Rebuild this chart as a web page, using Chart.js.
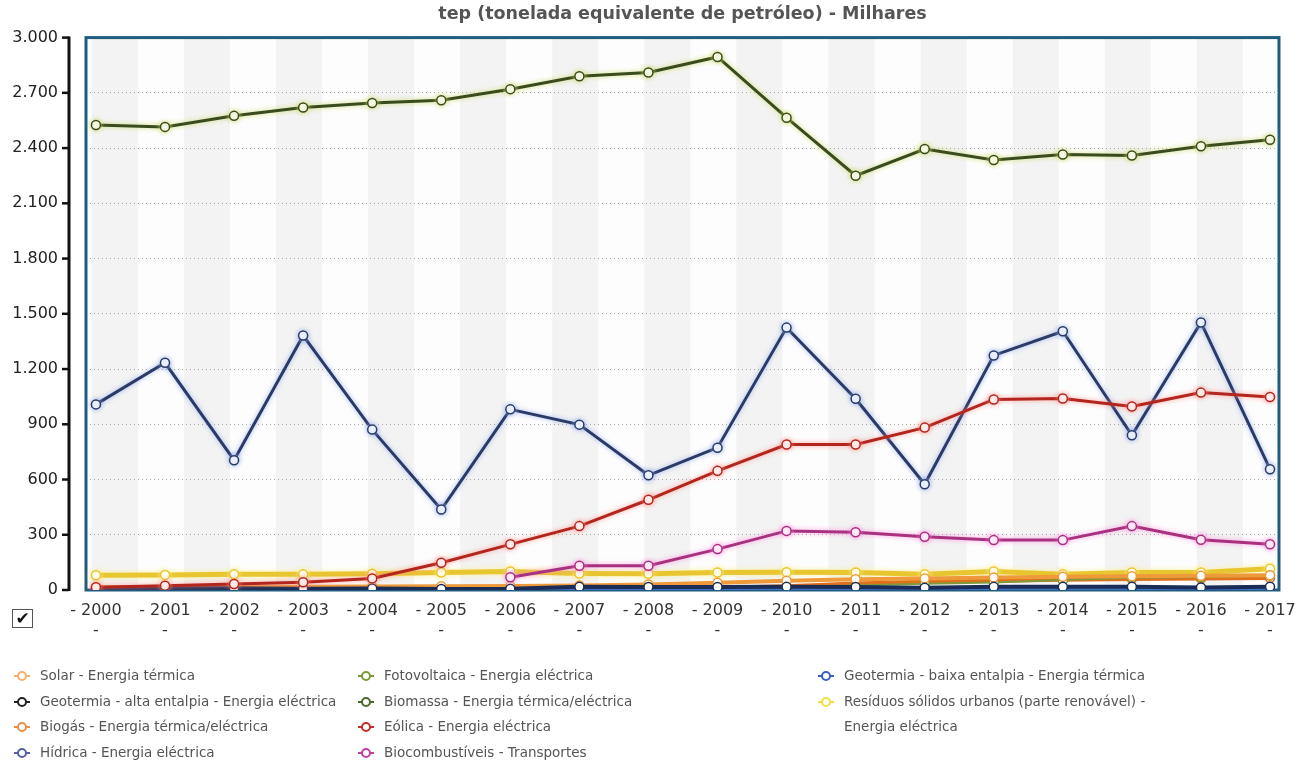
<!DOCTYPE html>
<html lang="pt">
<head>
<meta charset="utf-8">
<title>Energias renováveis - tep</title>
<script src="https://cdn.jsdelivr.net/npm/chart.js@4.4.1/dist/chart.umd.min.js"></script>
<style>
  html, body { margin: 0; padding: 0; background: #fff; }
  body { width: 1306px; height: 762px; position: relative; overflow: hidden; font-family: 'DejaVu Sans', Verdana, sans-serif; }
  #chart-wrap { position: absolute; left: 0; top: 0; width: 1306px; height: 645px; }
  #toggle { position: absolute; left: 12px; top: 609px; width: 19px; height: 17px; border: 1.5px solid #555; background: #fff;
            font-size: 17px; line-height: 17px; text-align: center; color: #111; font-weight: bold; }
  #legend { position: absolute; left: 14px; top: 663px; display: grid; grid-template-columns: 344px 460px 330px;
            grid-template-rows: repeat(4, 25.7px); grid-auto-flow: column; font-size: 13.5px; color: #555; }
  .lg-item { display: flex; align-items: flex-start; line-height: 25.7px; }
  .lg-item svg { flex: none; margin: 7px 10px 0 0; }
  .lg-text { max-width: 310px; }
</style>
</head>
<body>
<div id="chart-wrap"><canvas id="tep-chart"></canvas></div>
<div id="toggle">✔</div>
<div id="legend"></div>
<script>
// ===== Produção de energia renovável (tep, milhares) =====

const YEARS = [2000, 2001, 2002, 2003, 2004, 2005, 2006, 2007, 2008, 2009, 2010, 2011, 2012, 2013, 2014, 2015, 2016, 2017];
const Y_TICKS = [0, 300, 600, 900, 1200, 1500, 1800, 2100, 2400, 2700, 3000];

const solarTermica  = [15, 16, 17, 18, 19, 20, 22, 25, 30, 40, 50, 58, 63, 68, 72, 75, 77, 80];
const geoAlta       = [7, 9, 9, 7, 8, 6, 7, 17, 16, 16, 17, 16, 12, 17, 17, 17, 14, 18];
const biogas        = [2, 2, 3, 3, 3, 5, 7, 8, 10, 12, 20, 35, 45, 50, 55, 60, 62, 65];
const hidrica       = [1008, 1234, 705, 1382, 871, 437, 981, 898, 623, 773, 1425, 1039, 574, 1274, 1405, 840, 1453, 656];
const fotovoltaica  = [0, 0, 0, 0, 0, 0, 1, 2, 4, 14, 18, 24, 34, 41, 54, 66, 70, 78];
const biomassa      = [2525, 2515, 2575, 2620, 2645, 2660, 2720, 2790, 2810, 2895, 2565, 2250, 2395, 2335, 2365, 2360, 2410, 2445];
const eolica        = [15, 23, 33, 42, 63, 148, 248, 347, 490, 647, 790, 790, 882, 1035, 1040, 997, 1072, 1048];
const biocomb       = [null, null, null, null, null, null, 69, 132, 132, 222, 321, 314, 289, 271, 271, 347, 273, 248];
const geoBaixa      = [1, 1, 1, 1, 1, 1, 1, 1, 1, 1, 1, 2, 2, 2, 2, 2, 2, 2];
const residuos      = [80, 82, 85, 85, 88, 95, 100, 90, 88, 95, 97, 95, 85, 100, 85, 95, 95, 115];

const SERIES = [
  { label: 'Solar - Energia térmica', data: solarTermica, color: '#ee9a3a', mark: '#f4b070', width: 4, order: 6 },
  { label: 'Geotermia - alta entalpia - Energia eléctrica', data: geoAlta, color: '#1b2d57', mark: '#222', width: 4, order: 4 },
  { label: 'Biogás - Energia térmica/eléctrica', data: biogas, color: '#e0701c', mark: '#e8904a', width: 4, order: 7 },
  { label: 'Hídrica - Energia eléctrica', data: hidrica, color: '#2b3a67', mark: '#5560a8', width: 3, glow: 'rgba(150,175,235,0.9)', order: 2 },
  { label: 'Fotovoltaica - Energia eléctrica', data: fotovoltaica, color: '#7f9a3a', mark: '#7a9a3a', width: 2, order: 6 },
  { label: 'Biomassa - Energia térmica/eléctrica', data: biomassa, color: '#3a4c1e', mark: '#4a6a2a', width: 3, glow: 'rgba(205,220,110,0.95)', order: 2 },
  { label: 'Eólica - Energia eléctrica', data: eolica, color: '#b3261e', mark: '#c0302a', width: 3, glow: 'rgba(255,140,130,0.8)', order: 1 },
  { label: 'Biocombustíveis - Transportes', data: biocomb, color: '#a8327f', mark: '#c040a0', width: 3, glow: 'rgba(255,130,220,0.8)', order: 3 },
  { label: 'Geotermia - baixa entalpia - Energia térmica', data: geoBaixa, color: '#3f6fc0', mark: '#3a5fbf', width: 3, order: 5 },
  { label: 'Resíduos sólidos urbanos (parte renovável) - Energia eléctrica', data: residuos, color: '#e8c630', mark: '#f0e040', width: 5, glow: 'rgba(255,240,140,0.9)', order: 9 },
];

const FONT = "'DejaVu Sans', Verdana, sans-serif";

function fmtThousands(v) {
  return String(v).replace(/\B(?=(\d{3})+(?!\d))/g, '.');
}

// alternating column shading + plot frame + detached black y axis
const plotDecor = {
  id: 'plotDecor',
  beforeDraw(chart) {
    const { ctx, chartArea: a, scales: { x } } = chart;
    ctx.save();
    ctx.fillStyle = '#fdfdfd';
    ctx.fillRect(a.left, a.top, a.right - a.left, a.bottom - a.top);
    ctx.beginPath();
    ctx.rect(a.left, a.top, a.right - a.left, a.bottom - a.top);
    ctx.clip();
    ctx.fillStyle = '#f3f3f3';
    const step = 2 / 3;
    for (let v = -0.06, k = 0; v < x.max; v += step, k++) {
      if (k % 2) continue;
      const x0 = x.getPixelForValue(v), x1 = x.getPixelForValue(v + step);
      ctx.fillRect(x0, a.top, x1 - x0, a.bottom - a.top);
    }
    ctx.restore();
  },
  beforeDatasetsDraw(chart) {
    const { ctx, chartArea: a } = chart;
    ctx.save();
    ctx.strokeStyle = '#1f5c80';
    ctx.lineWidth = 3;
    ctx.strokeRect(a.left, a.top, a.right - a.left, a.bottom - a.top);
    ctx.restore();
  },
  afterDraw(chart) {
    const { ctx, chartArea: a, scales: { y } } = chart;
    const ax = a.left - 17;
    ctx.save();
    ctx.strokeStyle = '#111';
    ctx.lineWidth = 3;
    ctx.beginPath();
    ctx.moveTo(ax, y.getPixelForValue(y.max) - 1);
    ctx.lineTo(ax, y.getPixelForValue(y.min) + 1);
    ctx.stroke();
    ctx.lineWidth = 2.5;
    y.ticks.forEach(t => {
      const py = y.getPixelForValue(t.value);
      ctx.beginPath();
      ctx.moveTo(ax - 7, py);
      ctx.lineTo(ax, py);
      ctx.stroke();
    });
    ctx.restore();
  }
};

// soft halo under the main lines
const lineGlow = {
  id: 'lineGlow',
  beforeDatasetDraw(chart, args) {
    const ds = chart.data.datasets[args.index];
    chart.ctx.save();
    if (ds.glow) {
      chart.ctx.shadowColor = ds.glow;
      chart.ctx.shadowBlur = 5;
    }
  },
  afterDatasetDraw(chart) {
    chart.ctx.restore();
  }
};

const datasets = SERIES.map(s => ({
  label: s.label,
  data: s.data.map((v, i) => ({ x: i, y: v })),
  borderColor: s.color,
  borderWidth: s.width,
  pointRadius: 4.5,
  pointBorderWidth: 1.5,
  pointBackgroundColor: '#fff',
  pointBorderColor: s.color,
  tension: 0,
  order: s.order,
  glow: s.glow,
}));

new Chart(document.getElementById('tep-chart').getContext('2d'), {
  type: 'line',
  data: { datasets },
  plugins: [plotDecor, lineGlow],
  options: {
    responsive: true,
    maintainAspectRatio: false,
    animation: false,
    layout: { padding: { left: 0, right: 21, top: 0, bottom: 0 } },
    plugins: {
      legend: { display: false },
      tooltip: { enabled: false },
      title: {
        display: true,
        fullSize: false,
        text: 'tep (tonelada equivalente de petróleo) - Milhares',
        color: '#555',
        font: { family: FONT, size: 17.5, weight: 'bold', lineHeight: 1.2 },
        padding: { top: 1, bottom: 13 },
      }
    },
    scales: {
      x: {
        type: 'linear',
        min: -0.144,
        max: 17.13,
        afterBuildTicks: s => { s.ticks = YEARS.map((_, i) => ({ value: i })); },
        afterFit: s => { s.height = 55; },
        grid: { display: false, drawTicks: false },
        border: { display: false },
        ticks: {
          padding: 10,
          color: '#333',
          maxRotation: 0,
          autoSkip: false,
          font: { family: FONT, size: 16, lineHeight: 1.3 },
          callback: v => ['- ' + YEARS[v], '-'],
        }
      },
      y: {
        min: 0,
        max: 3000,
        afterBuildTicks: s => { s.ticks = Y_TICKS.map(v => ({ value: v })); },
        afterFit: s => { s.width = 86; },
        grid: { color: '#a8a8a8', lineWidth: 1, drawTicks: false },
        border: { display: false, dash: [1, 3] },
        ticks: {
          padding: 28,
          color: '#222',
          font: { family: FONT, size: 16 },
          callback: v => fmtThousands(v),
        }
      }
    }
  }
});

// legend in four rows, filled column by column
document.getElementById('legend').innerHTML = SERIES.map(s => `
  <div class="lg-item">
    <svg width="16" height="12" viewBox="0 0 16 12">
      <line x1="0" y1="6" x2="16" y2="6" stroke="${s.mark}" stroke-width="2"/>
      <circle cx="8" cy="6" r="4" fill="#fff" stroke="${s.mark}" stroke-width="2"/>
    </svg>
    <span class="lg-text">${s.label}</span>
  </div>
`).join('');
</script>
</body>
</html>
